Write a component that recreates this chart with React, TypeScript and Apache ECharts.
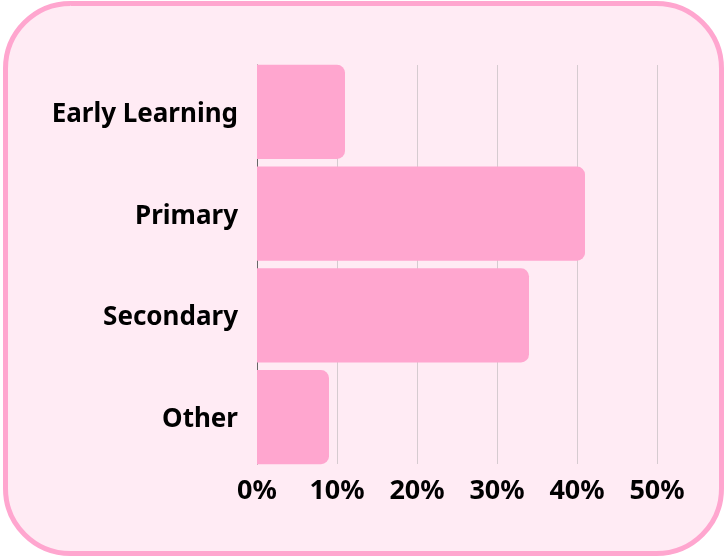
import React, { useEffect, useRef } from "react";
import * as echarts from "echarts";

const categories = ["Early Learning", "Primary", "Secondary", "Other"];
const values = [11, 41, 34, 9];
const tickValues = [0, 10, 20, 30, 40, 50];

const FONT = "'Noto Sans', sans-serif";

export default function App() {
  const ref = useRef<HTMLDivElement>(null);
  useEffect(() => {
    document.body.style.margin = "0";
    const chart = echarts.init(ref.current!, null, { renderer: "svg" });
    const gridLeft = 257;
    const gridRight = 68;
    chart.setOption({
      animation: false,
      backgroundColor: "transparent",
      graphic: [
        {
          type: "rect",
          z: -10,
          silent: true,
          shape: { x: 5.5, y: 3.5, width: 716, height: 550, r: 65 },
          style: { fill: "#FFEBF4", stroke: "#FFA6CF", lineWidth: 5 },
        },
      ],
      grid: [
        { left: gridLeft, right: gridRight, top: 61, bottom: 90 },
        { left: gridLeft, right: gridRight, top: 65, bottom: 94 },
      ],
      xAxis: [
        {
          type: "value",
          gridIndex: 0,
          min: 0,
          max: 50,
          interval: 10,
          axisLine: { show: false },
          axisTick: { show: false },
          axisLabel: { show: false },
          splitLine: { show: false },
        },
        {
          type: "value",
          gridIndex: 1,
          min: 0,
          max: 50,
          interval: 10,
          axisLine: { show: false },
          axisTick: { show: false },
          axisLabel: {
            margin: 11,
            color: "#000",
            fontFamily: FONT,
            fontWeight: "bold",
            fontSize: 27,
            formatter: (v: number) => (tickValues.includes(v) ? v + "%" : ""),
          },
          splitLine: { show: true, lineStyle: { color: "#D6CBD0", width: 1 } },
        },
      ],
      yAxis: [
        {
          type: "category",
          gridIndex: 0,
          data: categories,
          inverse: true,
          axisLine: { show: false },
          axisTick: { show: false },
          axisLabel: {
            margin: 19,
            color: "#000",
            fontFamily: FONT,
            fontWeight: "bold",
            fontSize: 26,
            padding: [0, 0, 3, 0],
          },
          splitLine: { show: false },
        },
        {
          type: "category",
          gridIndex: 1,
          data: categories,
          inverse: true,
          axisLine: { show: true, lineStyle: { color: "#666", width: 1 } },
          axisTick: { show: false },
          axisLabel: { show: false },
          splitLine: { show: false },
        },
      ],
      series: [
        {
          type: "bar",
          xAxisIndex: 0,
          yAxisIndex: 0,
          data: values,
          barCategoryGap: "7.6%",
          z: 5,
          itemStyle: { color: "#FFA6CF", borderRadius: [0, 8, 8, 0] },
        },
      ],
    });
    return () => chart.dispose();
  }, []);
  return (
    <div
      ref={ref}
      style={{ position: "fixed", left: 0, top: 0, width: 725, height: 558 }}
    />
  );
}
